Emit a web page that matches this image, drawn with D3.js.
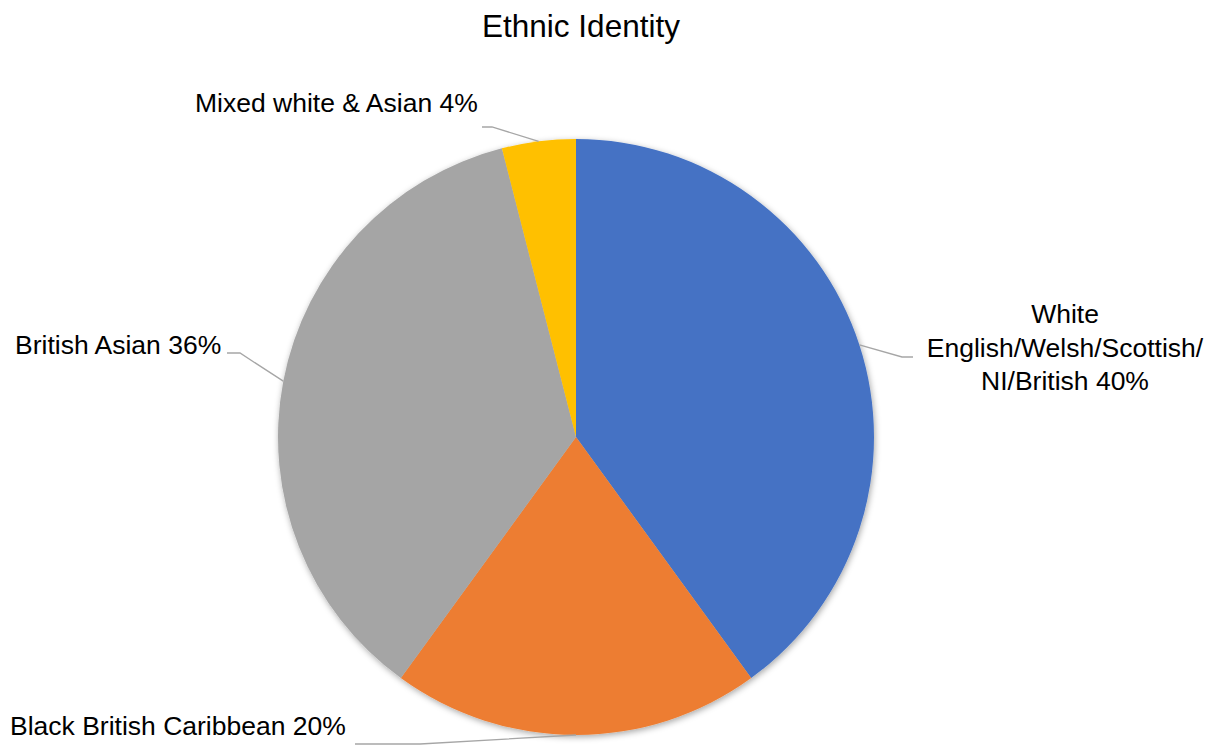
<!DOCTYPE html>
<html>
<head>
<meta charset="utf-8">
<script src="https://cdn.jsdelivr.net/npm/d3@7"></script>
<style>
  html, body { margin: 0; padding: 0; background: #fff; }
  svg { display: block; font-family: "Liberation Sans", Arial, sans-serif; }
</style>
</head>
<body>
<svg id="chart" width="1214" height="745"></svg>
<script>
// ---- data ----
const categories = ["White English/Welsh/Scottish/NI/British", "Black British Caribbean", "British Asian", "Mixed white & Asian"];
const values = [40, 20, 36, 4];
const colors = ["#4472C4", "#ED7D31", "#A5A5A5", "#FFC000"];
const labelLines = [
  ["White", "English/Welsh/Scottish/", "NI/British 40%"],
  ["Black British Caribbean 20%"],
  ["British Asian 36%"],
  ["Mixed white & Asian 4%"]
];
const title = "Ethnic Identity";

// ---- layout ----
const W = 1214, H = 745;
const cx = 576, cy = 437, R = 298;
// label layout: elbow point, line end point, text anchor point (relative to chart), anchor type
const labelLayout = [
  { elbow: [902, 357], end: [913, 357], text: [1065, 323], anchor: "middle" },
  { elbow: [420, 744], end: [355, 744], text: [10, 735], anchor: "start" },
  { elbow: [240, 353], end: [227, 353], text: [15, 354], anchor: "start" },
  { elbow: [492, 127], end: [482, 127], text: [195, 112], anchor: "start" }
];

const svg = d3.select("#chart");
const defs = svg.append("defs");
const f = defs.append("filter").attr("id", "shadow")
  .attr("x", "-10%").attr("y", "-10%").attr("width", "120%").attr("height", "120%");
f.append("feDropShadow").attr("dx", 1).attr("dy", 2).attr("stdDeviation", 3)
  .attr("flood-color", "#000").attr("flood-opacity", 0.35);

svg.append("text")
  .attr("x", 581).attr("y", 37)
  .attr("text-anchor", "middle")
  .attr("font-size", 31.5)
  .attr("fill", "#000")
  .text(title);

const pie = d3.pie().sort(null).value(d => d)(values);
const arc = d3.arc().innerRadius(0).outerRadius(R);

const g = svg.append("g").attr("transform", `translate(${cx},${cy})`);
g.append("g").attr("filter", "url(#shadow)")
  .selectAll("path").data(pie).join("path")
  .attr("d", arc)
  .attr("fill", (d, i) => colors[i]);

// leader lines
pie.forEach((d, i) => {
  const a = (d.startAngle + d.endAngle) / 2;
  const sx = cx + R * Math.sin(a), sy = cy - R * Math.cos(a);
  const L = labelLayout[i];
  svg.append("polyline")
    .attr("points", [[sx, sy], L.elbow, L.end].map(p => p.join(",")).join(" "))
    .attr("fill", "none")
    .attr("stroke", "#A6A6A6")
    .attr("stroke-width", 1.3);
});

// labels
labelLines.forEach((lines, i) => {
  const L = labelLayout[i];
  const t = svg.append("text")
    .attr("x", L.text[0]).attr("y", L.text[1])
    .attr("text-anchor", L.anchor)
    .attr("font-size", 26.5)
    .attr("fill", "#000");
  lines.forEach((ln, j) => {
    t.append("tspan").attr("x", L.text[0]).attr("dy", j === 0 ? 0 : 33.5).text(ln);
  });
});
</script>
</body>
</html>
